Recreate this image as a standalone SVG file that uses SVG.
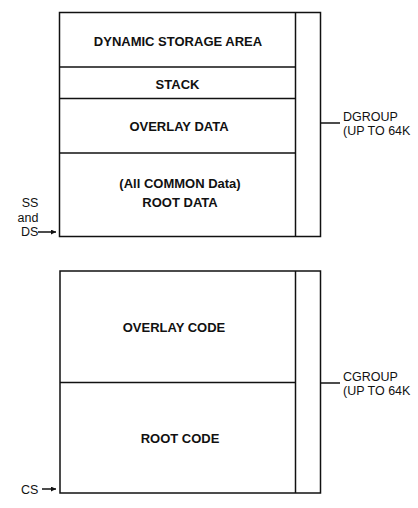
<svg xmlns="http://www.w3.org/2000/svg" width="418" height="508" viewBox="0 0 418 508">
<style>
.box{fill:none;stroke:#111;stroke-width:1.5}
.ln{stroke:#111;stroke-width:1.5;fill:none}
.b{font-family:"Liberation Sans",Arial,sans-serif;font-weight:bold;font-size:13px;fill:#111;text-anchor:middle}
.r{font-family:"Liberation Sans",Arial,sans-serif;font-size:12.5px;fill:#111}
</style>
<defs>
<marker id="ah" viewBox="0 0 10 10" refX="10" refY="5" markerWidth="7" markerHeight="5" markerUnits="userSpaceOnUse" orient="auto">
<path d="M0,0 L10,5 L0,10 z" fill="#111"/>
</marker>
</defs>
<rect width="418" height="508" fill="#fff"/>
<g id="dgroup">
<rect class="box" x="59.5" y="12.5" width="261" height="224"/>
<line class="ln" x1="295.5" y1="12.5" x2="295.5" y2="236.5"/>
<text class="r" x="343" y="121">DGROUP</text>
<text class="r" x="343" y="135">(UP TO 64K</text>
</g>
<g id="dsa">
<text class="b" x="178" y="46">DYNAMIC STORAGE AREA</text>
<line class="ln" x1="59.5" y1="67" x2="295.5" y2="67"/>
</g>
<g id="stack">
<text class="b" x="177.5" y="89">STACK</text>
<line class="ln" x1="59.5" y1="98.5" x2="295.5" y2="98.5"/>
</g>
<g id="overlaydata">
<text class="b" x="179" y="131">OVERLAY DATA</text>
<line class="ln" x1="59.5" y1="153" x2="295.5" y2="153"/>
</g>
<g id="rootdata">
<text class="b" x="180" y="188">(All COMMON Data)</text>
<text class="b" x="180" y="207">ROOT DATA</text>
</g>
<g id="cgroup">
<rect class="box" x="60" y="271" width="260.5" height="222"/>
<line class="ln" x1="295.5" y1="271" x2="295.5" y2="493"/>
<text class="r" x="343" y="381">CGROUP</text>
<text class="r" x="343" y="395">(UP TO 64K</text>
</g>
<g id="overlaycode">
<text class="b" x="174" y="332">OVERLAY CODE</text>
<line class="ln" x1="60" y1="382.5" x2="295.5" y2="382.5"/>
</g>
<g id="rootcode">
<text class="b" x="180" y="443">ROOT CODE</text>
</g>
<g id="labels">
<text class="r" x="30" y="207" text-anchor="middle">SS</text>
<text class="r" x="28" y="222" text-anchor="middle">and</text>
<text class="r" x="21" y="236">DS</text>
<text class="r" x="21" y="494">CS</text>
</g>
<g id="connectors">
<line class="ln" x1="320.5" y1="123" x2="340" y2="123"/>
<line class="ln" x1="320.5" y1="383" x2="340" y2="383"/>
<line class="ln" x1="38" y1="232" x2="56" y2="232" stroke-width="1.2" marker-end="url(#ah)"/>
<line class="ln" x1="42" y1="489" x2="56" y2="489" stroke-width="1.2" marker-end="url(#ah)"/>
</g>
</svg>
